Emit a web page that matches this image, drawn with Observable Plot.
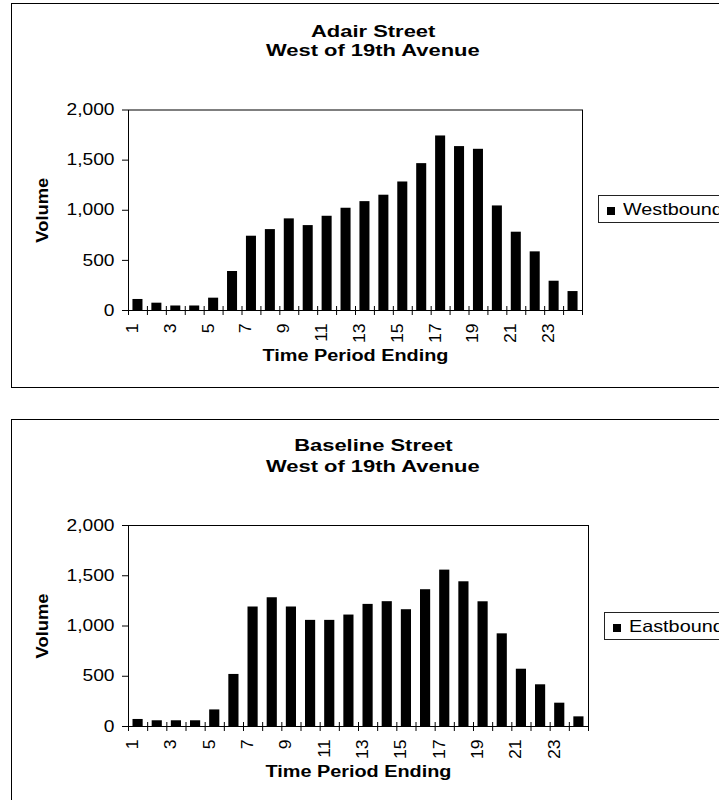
<!DOCTYPE html>
<html><head><meta charset="utf-8">
<script src="https://cdn.jsdelivr.net/npm/d3@7"></script>
<script src="https://cdn.jsdelivr.net/npm/@observablehq/plot@0.6"></script>
<style>
body{margin:0;background:#fff;font-family:"Liberation Sans",Arial,sans-serif;}
#root{position:relative;width:719px;height:800px;overflow:hidden;background:#fff;}
.box{position:absolute;border:1px solid #000;box-sizing:border-box;background:#fff;}
.title{position:absolute;text-align:center;font-weight:bold;font-size:17px;line-height:20px;white-space:nowrap;color:#000;}
.title span{display:inline-block;transform:scaleX(1.29);transform-origin:center;}
.legend{position:absolute;border:1px solid #222;background:#fff;height:28px;width:160px;box-sizing:border-box;white-space:nowrap;}
.legend .sw{position:absolute;left:8px;top:11px;width:8px;height:8px;background:#000;}
.legend .lt{position:absolute;left:24px;top:4px;font-size:16.5px;line-height:18px;transform:scaleX(1.2);transform-origin:left center;color:#000;}
.pw{position:absolute;left:0;}
</style></head>
<body><div id="root"></div>
<script>
// ---- data ----
const hours = [1,2,3,4,5,6,7,8,9,10,11,12,13,14,15,16,17,18,19,20,21,22,23,24];
const hourTickLabels = [1,3,5,7,9,11,13,15,17,19,21,23];
const volumeTicks = [0,500,1000,1500,2000];
const adairWestbound = [110,73,45,45,123,389,741,807,914,847,940,1020,1086,1150,1282,1465,1741,1635,1608,1043,781,585,292,189];
const baselineEastbound = [70,57,57,57,165,518,1189,1281,1189,1056,1056,1109,1215,1242,1162,1361,1556,1440,1241,922,570,415,232,96];
const titles1 = ["Adair Street","Baseline Street"];
const titles2 = ["West of 19th Avenue","West of 19th Avenue"];
const seriesNames = ["Westbound","Eastbound"];
const yAxisTitle = "Volume";
const xAxisTitle = "Time Period Ending";

// ---- layout ----
const layouts = [
  {boxTop:3, boxBottom:388, plotLeft:128, plotRight:582, plotTop:109.5, plotBottom:310, t1:29, t2:48, legLeft:598, legTop:195},
  {boxTop:419, boxBottom:830, plotLeft:128, plotRight:588, plotTop:525, plotBottom:726, t1:27, t2:48, legLeft:604, legTop:611.5}
];
const seriesValues = [adairWestbound, baselineEastbound];

const root = document.getElementById("root");

function stretchEl(t, s){
  const L = t.getComputedTextLength();
  t.setAttribute("textLength", (L*s).toFixed(2));
  t.setAttribute("lengthAdjust","spacingAndGlyphs");
}
function stretch(svg, selector, s){
  svg.querySelectorAll(selector).forEach(t=>stretchEl(t, s));
}
function stretchText(svg, content, s){
  svg.querySelectorAll("text").forEach(t=>{ if (t.textContent === content) stretchEl(t, s); });
}

layouts.forEach((L, k)=>{
  const box = document.createElement("div");
  box.className = "box";
  Object.assign(box.style,{left:"11px", top:L.boxTop+"px", width:"724px", height:(L.boxBottom-L.boxTop)+"px"});
  root.appendChild(box);

  [[titles1[k], L.t1],[titles2[k], L.t2]].forEach(([txt, off])=>{
    const d = document.createElement("div");
    d.className = "title";
    Object.assign(d.style,{left:"11px", width:"724px", top:(L.boxTop+off-10)+"px"});
    const sp = document.createElement("span"); sp.textContent = txt; d.appendChild(sp);
    root.appendChild(d);
  });

  const data = hours.map((h,i)=>({hour:h, volume:seriesValues[k][i]}));
  const W = 719;
  const mt = L.plotTop - L.boxTop;
  const plotH = L.plotBottom - L.plotTop;
  const mb = 75;
  const H = mt + plotH + mb;
  const step = (L.plotRight - L.plotLeft)/hours.length;

  const svg = Plot.plot({
    width: W, height: H,
    marginLeft: L.plotLeft, marginRight: W - L.plotRight, marginTop: mt, marginBottom: mb,
    style:{fontFamily:'"Liberation Sans", Arial, sans-serif', fontSize:"16px", color:"#000", background:"transparent", overflow:"visible"},
    x:{type:"band", domain:hours, paddingInner:0.47, paddingOuter:0.235, round:false},
    y:{domain:[0,2000]},
    marks:[
      Plot.barY(data,{x:"hour", y:"volume", fill:"#000"}),
      Plot.frame({stroke:"#000", strokeWidth:1}),
      Plot.axisY(volumeTicks,{tickSize:6, tickPadding:8, tickFormat:d3.format(","), label:null, fontSize:16, stroke:"#000", strokeOpacity:1}),
      Plot.ruleX(hours,{x:d=>d, y1:0, y2:0, insetTop:-4, insetBottom:-5, dx:-step/2, stroke:"#000"}),
      Plot.ruleX([hours[hours.length-1]],{x:d=>d, y1:0, y2:0, insetTop:-4, insetBottom:-5, dx:step/2, stroke:"#000"}),
      Plot.axisX(hourTickLabels,{tickSize:0, tickPadding:13, rotate:-90, textAnchor:"end", lineAnchor:"bottom", label:null, fontSize:16}),
      Plot.text([yAxisTitle],{text:d=>d, frameAnchor:"left", dx:-86, rotate:-90, textAnchor:"middle", fontWeight:"bold", fontSize:17, lineAnchor:"middle"}),
      Plot.text([xAxisTitle],{text:d=>d, frameAnchor:"bottom", dy:45, textAnchor:"middle", fontWeight:"bold", fontSize:16, lineAnchor:"middle"})
    ]
  });
  const pw = document.createElement("div");
  pw.className = "pw";
  pw.style.top = L.boxTop+"px";
  pw.appendChild(svg);
  root.appendChild(pw);
  stretch(svg, 'g[aria-label="y-axis tick label"] text', 1.2);
  stretch(svg, 'g[aria-label="x-axis tick label"] text', 1.1);
  stretchText(svg, xAxisTitle, 1.24);
  stretchText(svg, yAxisTitle, 1.08);

  const leg = document.createElement("div");
  leg.className = "legend";
  Object.assign(leg.style,{left:L.legLeft+"px", top:L.legTop+"px"});
  const sw = document.createElement("div"); sw.className="sw"; leg.appendChild(sw);
  const lt = document.createElement("div"); lt.className="lt"; lt.textContent = seriesNames[k]; leg.appendChild(lt);
  root.appendChild(leg);
});
</script>
</body></html>
